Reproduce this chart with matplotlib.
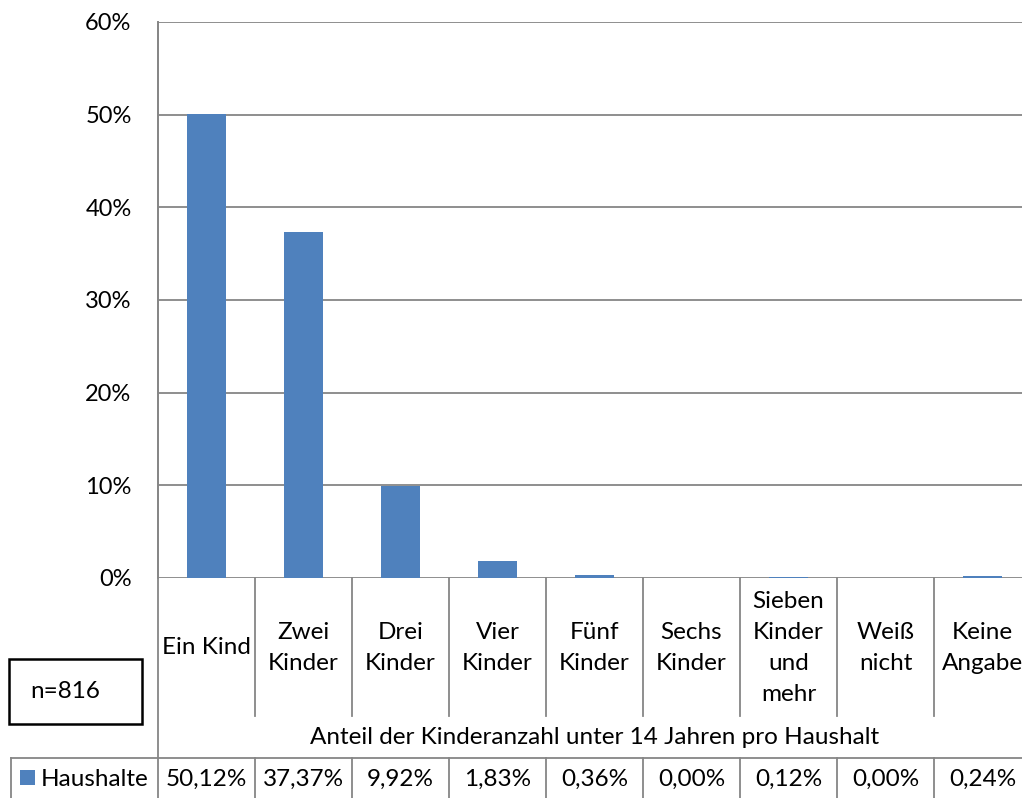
import matplotlib
matplotlib.use("Agg")
import matplotlib.pyplot as plt
from matplotlib import transforms
from matplotlib.patches import Rectangle

# Daten
categories = ["Ein Kind", "Zwei\nKinder", "Drei\nKinder", "Vier\nKinder", "Fünf\nKinder",
              "Sechs\nKinder", "Sieben\nKinder\nund\nmehr", "Weiß\nnicht", "Keine\nAngabe"]
haushalte = [50.12, 37.37, 9.92, 1.83, 0.36, 0.00, 0.12, 0.00, 0.24]
y_ticks = [0, 10, 20, 30, 40, 50, 60]
series_name = "Haushalte"
x_title = "Anteil der Kinderanzahl unter 14 Jahren pro Haushalt"
n_text = "n=816"

BAR = "#4F81BD"
GRID = "#868686"
W, H = 1022, 798
FS = 17.5

plt.rcParams["font.family"] = ["Lato", "DejaVu Sans"]


def fy(py):
    return 1 - py / H


def fx(px):
    return px / W


fig = plt.figure(figsize=(W / 100, H / 100), dpi=100)
ax = fig.add_axes([fx(158), fy(578), (1031 - 158) / W, (578 - 22) / H])

x = list(range(len(categories)))
ax.bar(x, haushalte, width=0.4, color=BAR, zorder=3)
ax.set_xlim(-0.5, len(categories) - 0.5)
ax.set_ylim(0, 60)
ax.set_yticks(y_ticks)
ax.set_yticklabels([f"{t}%" for t in y_ticks], fontsize=17)
ax.tick_params(axis="y", length=0, pad=19)
ax.set_xticks([])
ax.grid(axis="y", color=GRID, linewidth=1.3, zorder=0)
for s in ["top", "right", "bottom"]:
    ax.spines[s].set_visible(False)
ax.spines["left"].set_color(GRID)
ax.spines["left"].set_linewidth(1.3)

blend = transforms.blended_transform_factory(ax.transData, fig.transFigure)
lkw = dict(color=GRID, linewidth=1.3, clip_on=False)

# linke Achse nach unten durch die Tabelle verlängern
ax.plot([-0.5, -0.5], [fy(22), fy(798)], transform=blend, **lkw)

# Kategorie-Beschriftungen mit Trennlinien
for i, lab in enumerate(categories):
    ax.text(i, fy(648), lab, transform=blend, ha="center", va="center",
            fontsize=FS, linespacing=1.6)
    ax.plot([i + 0.5, i + 0.5], [fy(578), fy(716)], transform=blend, **lkw)
    ax.plot([i + 0.5, i + 0.5], [fy(758), fy(798)], transform=blend, **lkw)

# Achsentitel
ax.text((len(categories) - 1) / 2, fy(738), x_title, transform=blend,
        ha="center", va="center", fontsize=FS)

# Datentabelle
fig.add_artist(plt.Line2D([fx(11), 1.02], [fy(758), fy(758)], transform=fig.transFigure,
                          color=GRID, linewidth=1.3))
fig.add_artist(plt.Line2D([fx(11), fx(11)], [fy(758), fy(798)], transform=fig.transFigure,
                          color=GRID, linewidth=1.3))
fig.add_artist(Rectangle((fx(20), fy(785)), 15 / W, 15 / H, transform=fig.transFigure,
                         facecolor=BAR, edgecolor="none"))
fig.text(fx(41), fy(779), series_name, ha="left", va="center", fontsize=FS)
for i, v in enumerate(haushalte):
    ax.text(i, fy(779), f"{v:.2f}%".replace(".", ","), transform=blend,
            ha="center", va="center", fontsize=FS)

# n-Box
fig.add_artist(Rectangle((fx(9), fy(724)), 133 / W, 65 / H, transform=fig.transFigure,
                         facecolor="white", edgecolor="black", linewidth=1.8))
fig.text(fx(30), fy(691), n_text, ha="left", va="center", fontsize=FS)

fig.savefig("out.png", dpi=100)
